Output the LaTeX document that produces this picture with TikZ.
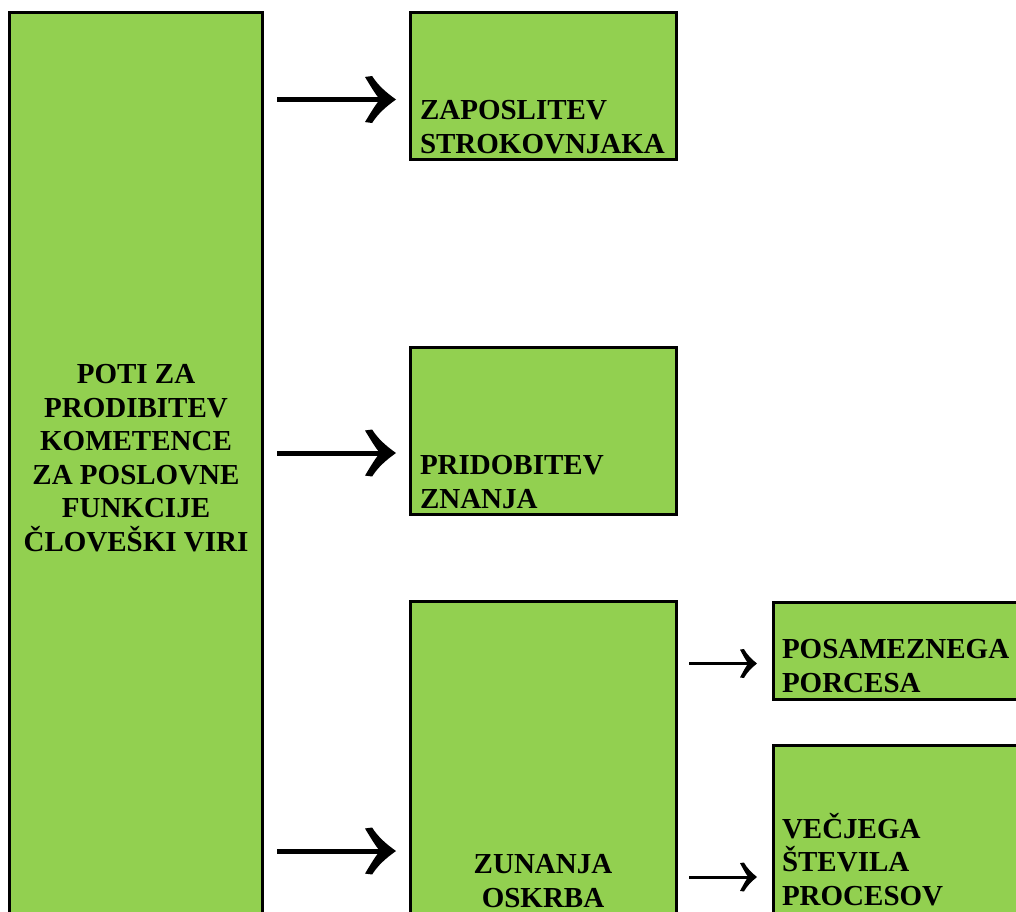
\documentclass[tikz,border=0pt]{standalone}
\usepackage{fontspec}
\setmainfont{Liberation Serif}
\usetikzlibrary{arrows.meta}
\definecolor{boxgreen}{HTML}{92D050}
\pgfdeclarearrow{
  name = Glyph,
  parameters = {\the\pgfarrowlength,\the\pgfarrowwidth},
  setup code = {
    \pgfarrowssettipend{0pt}
    \pgfarrowssetlineend{-0.45\pgfarrowlength}
    \pgfarrowssetbackend{-\pgfarrowlength}
    \pgfarrowssetvisualbackend{-0.45\pgfarrowlength}
    \pgfarrowshullpoint{0pt}{0pt}
    \pgfarrowsupperhullpoint{-\pgfarrowlength}{0.5\pgfarrowwidth}
    \pgfarrowssavethe\pgfarrowlength
    \pgfarrowssavethe\pgfarrowwidth
  },
  drawing code = {
    \pgfpathmoveto{\pgfqpoint{0pt}{0pt}}
    \pgfpathcurveto{\pgfqpoint{-0.32\pgfarrowlength}{0.15\pgfarrowwidth}}{\pgfqpoint{-0.58\pgfarrowlength}{0.3\pgfarrowwidth}}{\pgfqpoint{-0.77\pgfarrowlength}{0.5\pgfarrowwidth}}
    \pgfpathlineto{\pgfqpoint{-\pgfarrowlength}{0.48\pgfarrowwidth}}
    \pgfpathcurveto{\pgfqpoint{-0.8\pgfarrowlength}{0.26\pgfarrowwidth}}{\pgfqpoint{-0.65\pgfarrowlength}{0.1\pgfarrowwidth}}{\pgfqpoint{-0.52\pgfarrowlength}{0pt}}
    \pgfpathcurveto{\pgfqpoint{-0.65\pgfarrowlength}{-0.1\pgfarrowwidth}}{\pgfqpoint{-0.8\pgfarrowlength}{-0.26\pgfarrowwidth}}{\pgfqpoint{-\pgfarrowlength}{-0.48\pgfarrowwidth}}
    \pgfpathlineto{\pgfqpoint{-0.77\pgfarrowlength}{-0.5\pgfarrowwidth}}
    \pgfpathcurveto{\pgfqpoint{-0.58\pgfarrowlength}{-0.3\pgfarrowwidth}}{\pgfqpoint{-0.32\pgfarrowlength}{-0.15\pgfarrowwidth}}{\pgfqpoint{0pt}{0pt}}
    \pgfpathclose
    \pgfusepathqfill
  },
  defaults = {length=31pt, width=47pt}
}
\begin{document}
\begin{tikzpicture}[x=1pt,y=-1pt,
  box/.style={draw=black,line width=3pt,fill=boxgreen,inner sep=0pt,outer sep=0pt,anchor=north west},
  lbl/.style={font=\fontsize{29}{33.5}\selectfont\bfseries,inner sep=0pt,outer sep=0pt},
  bigarr/.style={line width=5pt,-{Glyph[length=31pt,width=47pt]},shorten <=14.5pt,shorten >=14pt},
  smallarr/.style={line width=3pt,-{Glyph[length=17pt,width=29pt]},shorten <=13pt,shorten >=16pt}]
\useasboundingbox (0,0) rectangle (1016,911);
\clip (0,0) rectangle (1016,911);
% boxes
\node[box,minimum width=253pt,minimum height=930pt] (big) at (9.5,12.5) {};
\node[box,minimum width=266pt,minimum height=146.5pt] (b1) at (410,12.5) {};
\node[box,minimum width=266pt,minimum height=167pt] (b2) at (410,347.5) {};
\node[box,minimum width=266pt,minimum height=400pt] (b3) at (410,601.5) {};
\node[box,minimum width=300pt,minimum height=97.5pt] (b4) at (773,602) {};
\node[box,minimum width=300pt,minimum height=300pt] (b5) at (773,745.5) {};
% labels (anchored at the baseline of their last line)
\node[lbl,align=center,anchor=base] (tbig) at (136,551) {POTI ZA\\PRODIBITEV\\KOMETENCE\\ZA POSLOVNE\\FUNKCIJE\\ČLOVEŠKI VIRI};
\node[lbl,align=left,anchor=base west] (t1) at (420,153) {ZAPOSLITEV\\STROKOVNJAKA};
\node[lbl,align=left,anchor=base west] (t2) at (420,508) {PRIDOBITEV\\ZNANJA};
\node[lbl,align=center,anchor=base] (t3) at (543,907) {ZUNANJA\\OSKRBA};
\node[lbl,align=left,anchor=base west] (t4) at (782,692) {POSAMEZNEGA\\PORCESA};
\node[lbl,align=left,anchor=base west] (t5) at (782,905) {VEČJEGA\\ŠTEVILA\\PROCESOV};
% arrows
\draw[bigarr] (big.east |- 0,99.5) -- (b1.west |- 0,99.5);
\draw[bigarr] (big.east |- 0,453) -- (b2.west |- 0,453);
\draw[bigarr] (big.east |- 0,851) -- (b3.west |- 0,851);
\draw[smallarr] (b3.east |- 0,663.5) -- (b4.west |- 0,663.5);
\draw[smallarr] (b3.east |- 0,877) -- (b5.west |- 0,877);
\end{tikzpicture}
\end{document}
